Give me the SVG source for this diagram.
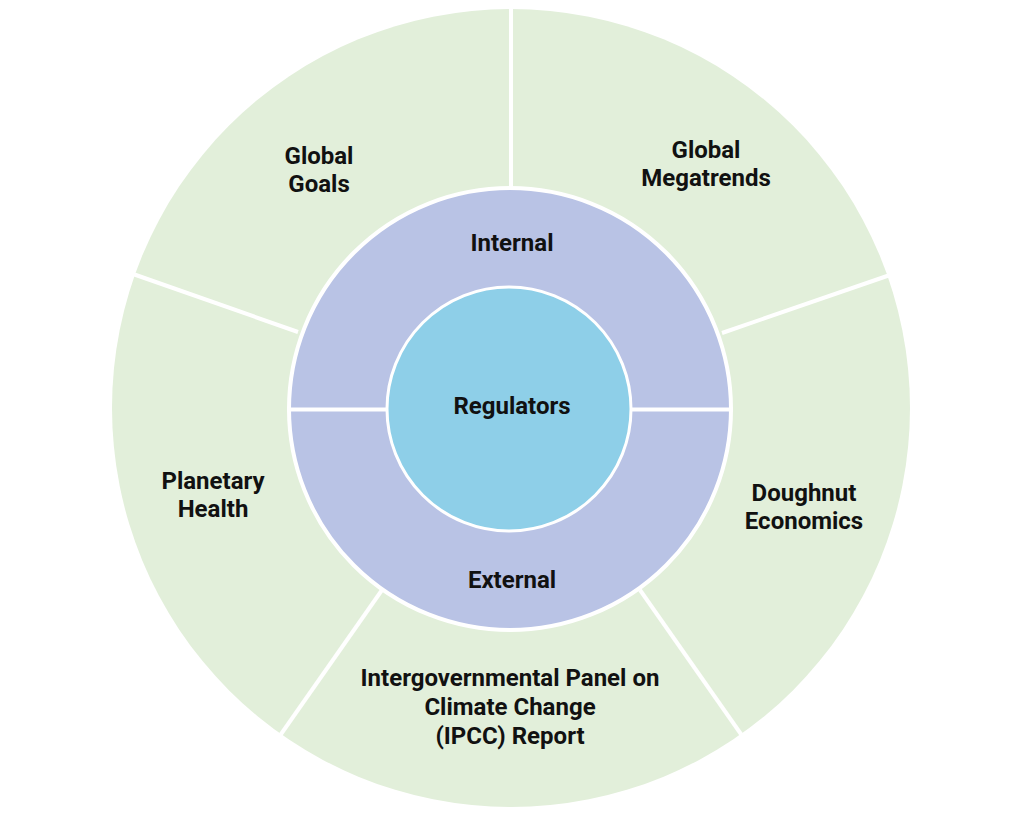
<svg xmlns="http://www.w3.org/2000/svg" width="1024" height="819" viewBox="0 0 1024 819">
<style>
.t{font-family:Roboto,"Liberation Sans",sans-serif;font-weight:700;font-size:24px;fill:#111;text-anchor:middle}
.div{stroke:#fff;stroke-width:4;fill:none}
</style>
<rect width="1024" height="819" fill="#fff"/>
<g id="outer-ring">
<circle cx="511" cy="408" r="399" fill="#E2EFDA"/>
</g>
<g id="connectors">
<line class="div" x1="511" y1="190" x2="511" y2="5"/>
<line class="div" x1="722" y1="333" x2="890" y2="275"/>
<line class="div" x1="298" y1="332" x2="133" y2="274"/>
<line class="div" x1="382" y1="590" x2="279" y2="737"/>
<line class="div" x1="640" y1="590" x2="743" y2="737"/>
</g>
<g id="middle-ring">
<circle cx="510" cy="409" r="221" fill="#B9C3E5" stroke="#fff" stroke-width="4"/>
<line class="div" x1="287" y1="409.5" x2="733" y2="409.5" stroke-width="3"/>
</g>
<g id="regulators">
<circle cx="509" cy="409" r="122" fill="#8ECFE8" stroke="#fff" stroke-width="3"/>
<text class="t" x="512" y="413.5">Regulators</text>
</g>
<g id="internal"><text class="t" x="512" y="250.5">Internal</text></g>
<g id="external"><text class="t" x="512" y="587.5">External</text></g>
<g id="global-goals"><text class="t" x="319" y="163.5">Global</text><text class="t" x="319" y="191.5">Goals</text></g>
<g id="global-megatrends"><text class="t" x="706" y="157.5">Global</text><text class="t" x="706" y="185.5">Megatrends</text></g>
<g id="planetary-health"><text class="t" x="213" y="488.5">Planetary</text><text class="t" x="213" y="516.5">Health</text></g>
<g id="doughnut-economics"><text class="t" x="804" y="500.5">Doughnut</text><text class="t" x="804" y="528.5">Economics</text></g>
<g id="ipcc"><text class="t" x="510" y="685.5">Intergovernmental Panel on</text><text class="t" x="510" y="714.5">Climate Change</text><text class="t" x="510" y="743.5">(IPCC) Report</text></g>
</svg>
